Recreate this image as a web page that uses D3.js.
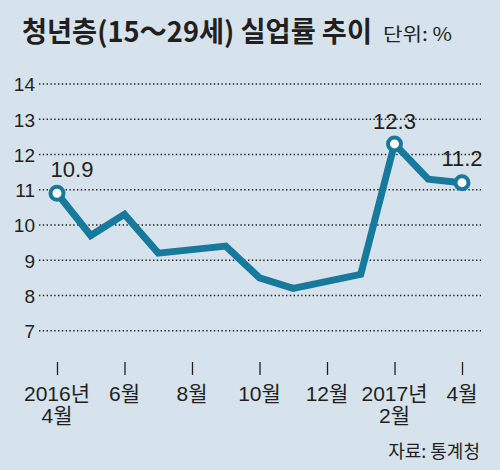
<!DOCTYPE html>
<html><head><meta charset="utf-8">
<script src="https://cdn.jsdelivr.net/npm/d3@7"></script>
<style>
html,body{margin:0;padding:0;background:#d6e3ec;}
svg{display:block;}
text{fill:#231f20;}
</style></head>
<body>
<svg id="chart" width="500" height="470"></svg>
<script>
const months = ["2016-04","2016-05","2016-06","2016-07","2016-08","2016-09","2016-10","2016-11","2016-12","2017-01","2017-02","2017-03","2017-04"];
const rates = [10.9, 9.7, 10.3, 9.2, 9.3, 9.4, 8.5, 8.2, 8.4, 8.6, 12.3, 11.3, 11.2];
const labelled = [0, 10, 12];
const yTicks = [7, 8, 9, 10, 11, 12, 13, 14];
const xTickIdx = [0, 2, 4, 6, 8, 10, 12];
const xTickLabels = [["2016년","4월"],["6월"],["8월"],["10월"],["12월"],["2017년","2월"],["4월"]];

const KR = "'Noto Sans CJK KR','Noto Sans',sans-serif";
const NUM = "'Liberation Sans Narrow','Liberation Sans','Noto Sans CJK KR',sans-serif";
const REG = "'Liberation Sans','Noto Sans CJK KR',sans-serif";

const svg = d3.select("#chart");
const W = 500, H = 470;
svg.append("rect").attr("width", W).attr("height", H).attr("fill", "#d6e3ec");

const x = d3.scaleLinear().domain([0, months.length - 1]).range([57, 462]);
const y = d3.scaleLinear().domain([7, 14]).range([330.7, 84]);

// title
svg.append("text").attr("x", 22).attr("y", 42)
  .style("font-family", KR).style("font-size", "28px").style("font-weight", "bold")
  .attr("textLength", 350).attr("lengthAdjust", "spacingAndGlyphs")
  .text("청년층(15～29세) 실업률 추이");
svg.append("text").attr("x", 383).attr("y", 41)
  .style("font-family", KR).style("font-size", "18px")
  .attr("textLength", 69).attr("lengthAdjust", "spacingAndGlyphs")
  .text("단위: %");

// y grid + labels
const yAxis = d3.axisLeft(y).tickValues(yTicks).tickSize(0).tickPadding(0).tickFormat(d3.format("d"));
const gy = svg.append("g").attr("transform", "translate(35,0)").call(yAxis);
gy.select(".domain").remove();
gy.selectAll("text").style("font-size", "19px").style("font-family", NUM)
  .attr("fill", "#231f20").attr("dy", "0.36em").attr("x", 0);

svg.append("g").selectAll("line").data(yTicks).join("line")
  .attr("x1", 39).attr("x2", 481)
  .attr("y1", d => y(d)).attr("y2", d => y(d))
  .attr("stroke", "#231f20").attr("stroke-width", 1.4)
  .attr("stroke-dasharray", "1.4,2.4");

// x ticks
const gx = svg.append("g").attr("transform", "translate(0,362)")
  .call(d3.axisBottom(x).tickValues(xTickIdx).tickSize(13).tickFormat(""));
gx.select(".domain").remove();
gx.selectAll(".tick line").attr("stroke", "#231f20").attr("stroke-width", 1.3);

const xl = svg.append("g");
xTickIdx.forEach((idx, k) => {
  xTickLabels[k].forEach((s, j) => {
    xl.append("text").attr("x", x(idx)).attr("y", 401 + j * 22)
      .attr("text-anchor", "middle")
      .style("font-size", "21px").style("font-family", NUM)
      .text(s);
  });
});

// source
svg.append("text").attr("x", 480).attr("y", 458).attr("text-anchor", "end")
  .style("font-family", KR).style("font-size", "18px").text("자료: 통계청");

// line
const line = d3.line().x((d, i) => x(i)).y(d => y(d));
svg.append("path").datum(rates).attr("d", line)
  .attr("fill", "none").attr("stroke", "#17799b").attr("stroke-width", 7)
  .attr("stroke-linejoin", "miter");

svg.append("g").selectAll("circle").data(labelled).join("circle")
  .attr("cx", i => x(i)).attr("cy", i => y(rates[i])).attr("r", 6.5)
  .attr("fill", "#fff").attr("stroke", "#17799b").attr("stroke-width", 4);

const labOff = {0: [15, -16], 10: [0, -15], 12: [0, -17]};
svg.append("g").selectAll("text").data(labelled).join("text")
  .attr("x", i => x(i) + labOff[i][0]).attr("y", i => y(rates[i]) + labOff[i][1])
  .attr("text-anchor", "middle")
  .style("font-size", "22px").style("font-family", REG)
  .text(i => rates[i].toFixed(1));
</script>
</body></html>
